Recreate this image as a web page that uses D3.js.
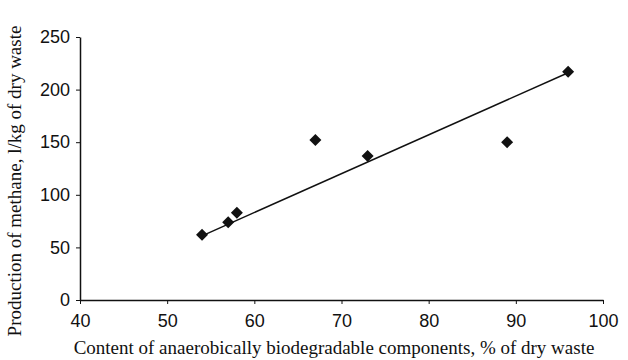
<!DOCTYPE html>
<html>
<head>
<meta charset="utf-8">
<script src="https://cdn.jsdelivr.net/npm/d3@7"></script>
<style>
  body { margin: 0; background: #fff; }
  .tick text { font-family: "Liberation Sans", Arial, sans-serif; font-size: 18px; fill: #111; }
  .title { font-family: "Liberation Serif", "Times New Roman", serif; font-size: 19px; fill: #111; }
</style>
</head>
<body>
<script>
// data
const contentPct = [54, 57, 58, 67, 73, 89, 96];
const methane = [62, 74, 83, 152, 137, 150, 217];
const trendX = [54, 96];
const trendY = [61, 216];
const xTicks = [40, 50, 60, 70, 80, 90, 100];
const yTicks = [0, 50, 100, 150, 200, 250];

const width = 628, height = 360;
const margin = { left: 80, right: 25, top: 37, bottom: 60 };

const svg = d3.select("body").append("svg")
  .attr("width", width)
  .attr("height", height);

const x = d3.scaleLinear().domain([40, 100]).range([margin.left, width - margin.right]);
const y = d3.scaleLinear().domain([0, 250]).range([height - margin.bottom, margin.top]);

// x axis
const xAxis = svg.append("g")
  .attr("transform", "translate(0," + y(0) + ")")
  .call(d3.axisBottom(x).tickValues(xTicks).tickSize(4).tickSizeOuter(0));
xAxis.select(".domain").attr("stroke", "#111").attr("stroke-width", 1.5);
xAxis.selectAll(".tick line").attr("stroke", "#111");
xAxis.selectAll(".tick text").attr("y", 27).attr("dy", 0);

// y axis
const yAxis = svg.append("g")
  .attr("transform", "translate(" + x(40) + ",0)")
  .call(d3.axisLeft(y).tickValues(yTicks).tickSize(4).tickSizeOuter(0));
yAxis.select(".domain").attr("stroke", "#111").attr("stroke-width", 1.5);
yAxis.selectAll(".tick line").attr("stroke", "#111");
yAxis.selectAll(".tick text").attr("x", -10);

// trend line
const trend = trendX.map((d, i) => [d, trendY[i]]);
svg.append("path")
  .datum(trend)
  .attr("fill", "none")
  .attr("stroke", "#111")
  .attr("stroke-width", 1.5)
  .attr("d", d3.line().x(d => x(d[0])).y(d => y(d[1])));

// diamond markers
const pts = contentPct.map((d, i) => ({ x: d, y: methane[i] }));
svg.append("g")
  .selectAll("path")
  .data(pts)
  .enter().append("path")
  .attr("transform", d => "translate(" + x(d.x) + "," + y(d.y) + ") rotate(45)")
  .attr("d", d3.symbol().type(d3.symbolSquare).size(72))
  .attr("fill", "#111");

// titles
svg.append("text")
  .attr("class", "title")
  .attr("x", 334)
  .attr("y", 354)
  .attr("text-anchor", "middle")
  .text("Content of anaerobically biodegradable components, % of dry waste");

svg.append("text")
  .attr("class", "title")
  .attr("transform", "translate(21,181) rotate(-90)")
  .attr("text-anchor", "middle")
  .text("Production of methane, l/kg of dry waste");
</script>
</body>
</html>
